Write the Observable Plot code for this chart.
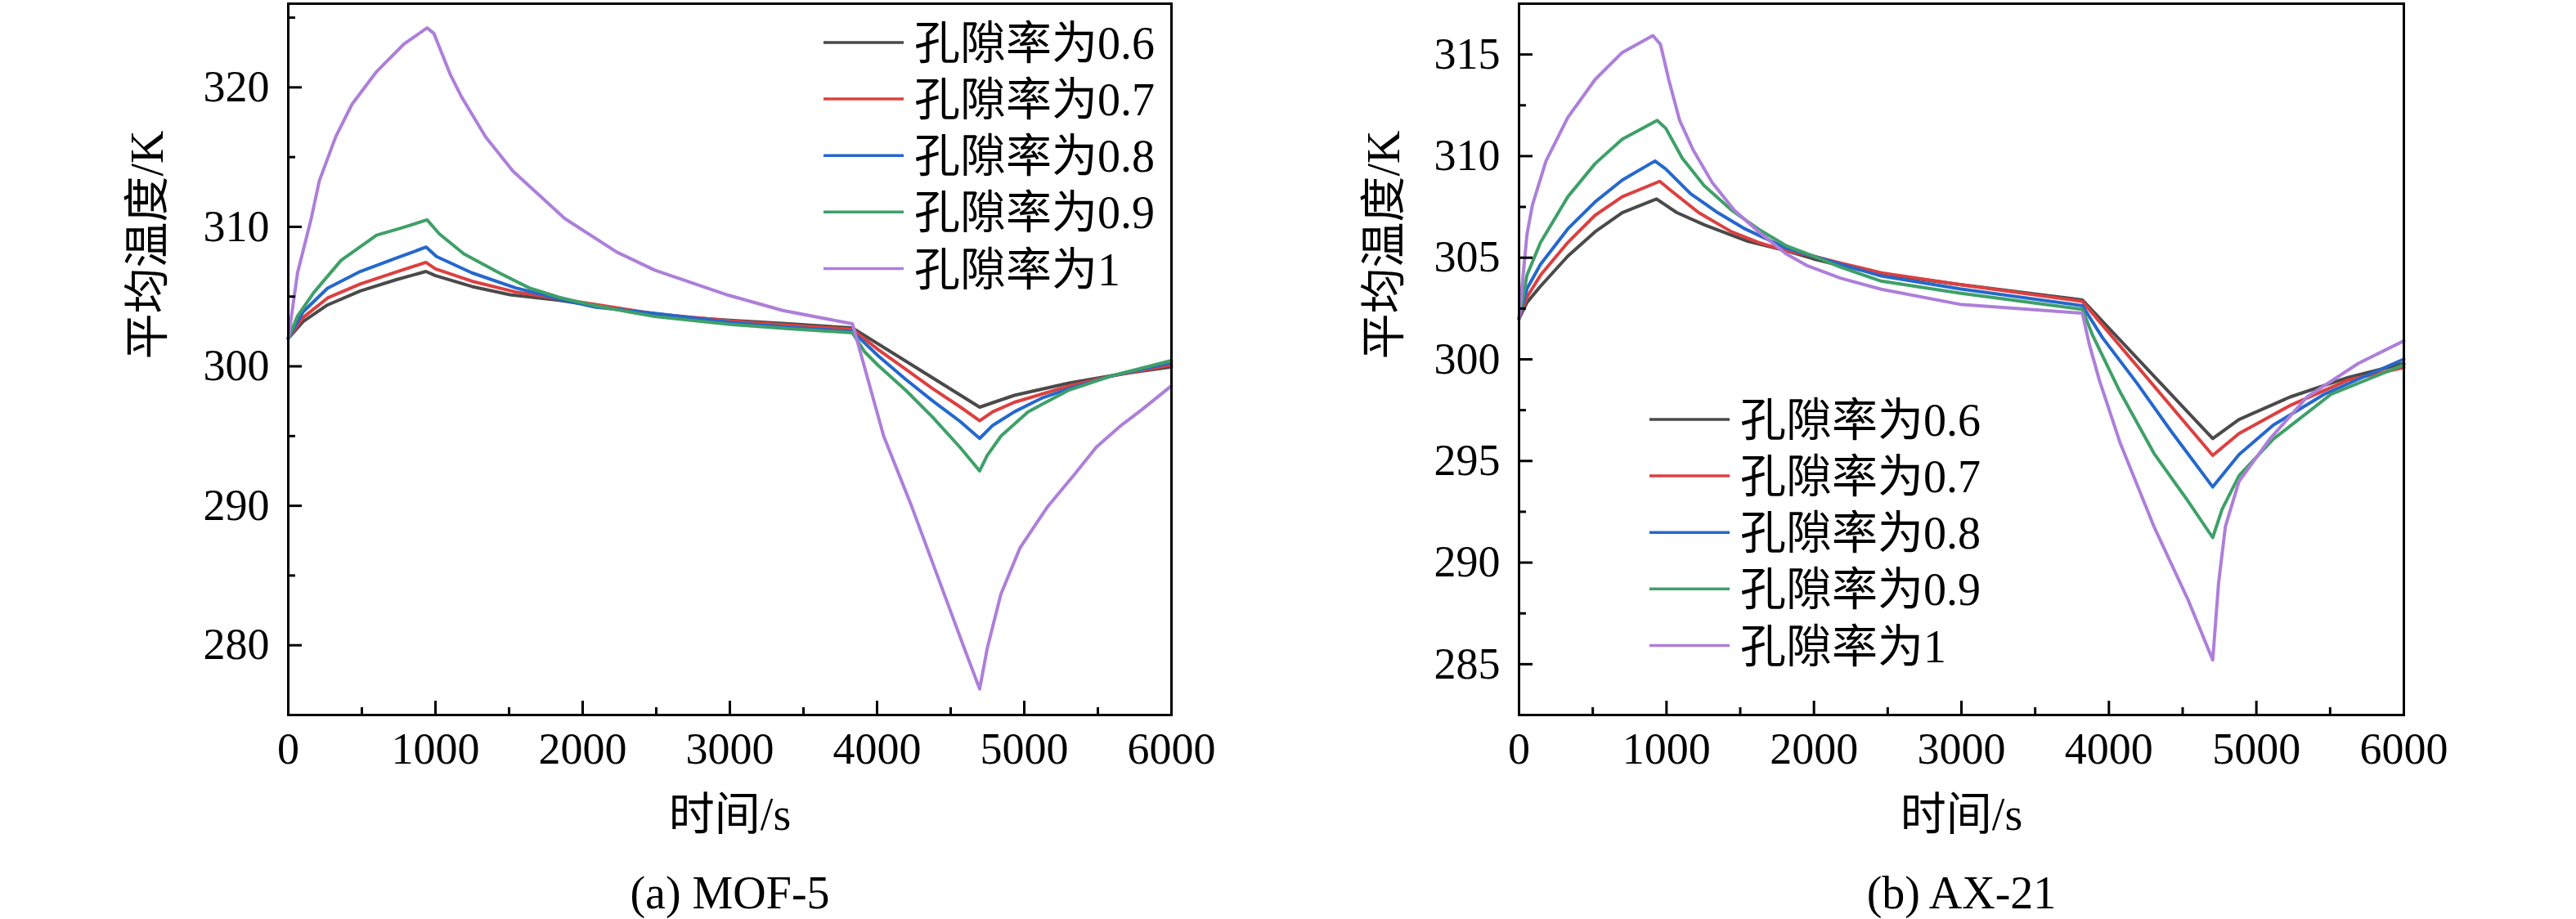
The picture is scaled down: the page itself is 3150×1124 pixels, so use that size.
<!DOCTYPE html>
<html>
<head>
<meta charset="utf-8">
<script src="https://cdn.jsdelivr.net/npm/d3@7"></script>
<script src="https://cdn.jsdelivr.net/npm/@observablehq/plot@0.6"></script>
<style>
  html, body { margin: 0; padding: 0; background: white; }
  #wrap { display: flex; width: 3150px; height: 1124px; }
  #wrap svg { display: block; overflow: visible; }
</style>
</head>
<body>
<div id="wrap"></div>
<script>
// ---------- data ----------
const seriesNames = ["孔隙率为0.6", "孔隙率为0.7", "孔隙率为0.8", "孔隙率为0.9", "孔隙率为1"];
const seriesColors = ["#4a4a4a", "#dc4040", "#2568cc", "#3fa068", "#ad7fd9"];

const xMajor = [0, 1000, 2000, 3000, 4000, 5000, 6000];
const xMinor = [500, 1500, 2500, 3500, 4500, 5500];

const yMajorA = [280, 290, 300, 310, 320];
const yMinorA = [285, 295, 305, 315, 325];
const yMajorB = [285, 290, 295, 300, 305, 310, 315];
const yMinorB = [287.5, 292.5, 297.5, 302.5, 307.5, 312.5];

// (a) MOF-5 : [time s, mean temperature K]
const mof5_06 = [[0,302.0],[100,303.2],[267,304.4],[489,305.4],[730,306.2],[935,306.8],[1000,306.5],[1248,305.72],[1507,305.13],[1841,304.74],[2489,303.67],[3000,303.3],[3400,303.05],[3833,302.75],[4267,299.9],[4697,297.07],[4933,297.92],[5304,298.8],[5674,299.47],[6000,299.96]];
const mof5_07 = [[0,302.0],[100,303.5],[267,304.9],[489,305.9],[730,306.75],[935,307.45],[1000,306.99],[1248,306.1],[1545,305.33],[1841,304.84],[2489,303.77],[3000,303.25],[3400,302.95],[3833,302.65],[4008,301.2],[4193,299.8],[4378,298.4],[4563,297.1],[4697,296.1],[4786,296.74],[4933,297.42],[5304,298.59],[5582,299.28],[6000,300.1]];
const mof5_08 = [[0,302.0],[100,303.9],[267,305.6],[489,306.8],[730,307.75],[937,308.55],[1007,307.87],[1248,306.7],[1545,305.62],[1841,304.84],[2082,304.25],[2489,303.8],[3000,303.15],[3400,302.8],[3833,302.5],[4008,300.75],[4193,299.08],[4378,297.52],[4563,296.06],[4697,294.83],[4786,295.77],[4933,296.74],[5119,297.72],[5304,298.4],[5582,299.28],[6000,300.26]];
const mof5_09 = [[0,302.0],[63,303.6],[174,305.3],[359,307.6],[600,309.4],[763,309.9],[943,310.5],[1026,309.5],[1193,308.06],[1433,306.7],[1637,305.62],[1841,304.94],[2082,304.35],[2489,303.57],[3000,303.0],[3400,302.7],[3833,302.4],[3915,301.04],[4008,300.06],[4193,298.3],[4378,296.35],[4563,294.2],[4697,292.5],[4748,293.6],[4841,294.99],[5026,296.74],[5304,298.3],[5582,299.28],[6000,300.41]];
const mof5_10 = [[0,302.0],[63,306.7],[156,310.6],[211,313.3],[322,316.45],[433,318.79],[600,321.13],[785,323.1],[943,324.26],[989,323.87],[1100,320.94],[1174,319.38],[1341,316.45],[1526,314.0],[1878,310.6],[2230,308.2],[2489,306.9],[2989,305.1],[3360,304.0],[3833,303.05],[4045,294.99],[4230,290.1],[4415,284.84],[4600,279.57],[4697,276.87],[4748,279.76],[4841,283.66],[4971,286.98],[5156,289.9],[5341,292.25],[5489,294.2],[5650,295.7],[5800,296.9],[6000,298.6]];

// (b) AX-21 : [time s, mean temperature K]
const ax21_06 = [[0,302.0],[54,302.8],[146,303.6],[331,305.08],[516,306.28],[700,307.22],[932,307.89],[1070,307.22],[1255,306.62],[1551,305.81],[1809,305.35],[1994,304.95],[2179,304.61],[2456,304.2],[2988,303.68],[3820,302.92],[4704,296.1],[4882,297.04],[5229,298.15],[5622,299.11],[6000,299.8]];
const ax21_07 = [[0,302.0],[54,303.07],[146,304.14],[331,305.75],[516,307.09],[700,308.0],[954,308.76],[1033,308.29],[1218,307.22],[1440,306.28],[1625,305.75],[1809,305.35],[1994,305.08],[2179,304.74],[2456,304.26],[2988,303.68],[3820,302.85],[4704,295.27],[4882,296.35],[5229,297.73],[5622,298.98],[6000,299.6]];
const ax21_08 = [[0,302.0],[54,303.48],[146,304.68],[331,306.42],[516,307.75],[700,308.82],[922,309.76],[996,309.36],[1163,308.15],[1347,307.22],[1532,306.42],[1809,305.48],[1994,305.08],[2179,304.68],[2456,304.1],[2988,303.47],[3820,302.64],[3958,301.05],[4189,298.84],[4420,296.48],[4704,293.72],[4882,295.31],[5114,296.76],[5460,298.28],[6000,300.01]];
const ax21_09 = [[0,302.0],[54,304.14],[146,305.75],[331,308.0],[516,309.63],[700,310.83],[937,311.76],[996,311.36],[1107,309.9],[1255,308.55],[1440,307.35],[1625,306.4],[1809,305.6],[1994,305.08],[2179,304.54],[2456,303.85],[2988,303.26],[3820,302.46],[3889,301.19],[4074,298.42],[4305,295.38],[4536,293.03],[4704,291.23],[4767,292.61],[4882,294.27],[5114,296.07],[5506,298.28],[6000,299.73]];
const ax21_10 = [[0,302.0],[54,306.15],[91,307.6],[183,309.76],[331,311.9],[516,313.77],[700,315.1],[908,315.93],[959,315.5],[1015,313.77],[1089,311.76],[1181,310.3],[1310,308.7],[1458,307.35],[1625,306.28],[1809,305.2],[1957,304.6],[2179,304.0],[2456,303.45],[2988,302.71],[3820,302.27],[3866,300.77],[3935,298.98],[4074,295.93],[4305,291.78],[4536,288.18],[4704,285.21],[4744,289.02],[4790,291.78],[4882,293.99],[5090,296.07],[5344,298.15],[5691,299.8],[6000,300.91]];

const xLabel = "时间/s";
const yLabel = "平均温度/K";
const captions = ["(a) MOF-5", "(b) AX-21"];

// ---------- drawing ----------
const FONT = "'Liberation Serif', 'Times New Roman', 'Noto Sans CJK SC', serif";
const W = 1575, H = 1124, MT = 4, MB = 250;

function panel(cfg) {
  const FH = H - MT - MB;
  const FW = W - cfg.marginLeft - cfg.marginRight;
  const lines = cfg.series.map((pts, i) =>
    Plot.line(pts, {x: d => d[0], y: d => d[1], stroke: seriesColors[i], strokeWidth: 4, strokeLinejoin: "round"}));
  const svg = Plot.plot({
    width: W, height: H,
    marginTop: MT, marginBottom: MB, marginLeft: cfg.marginLeft, marginRight: cfg.marginRight,
    style: {fontFamily: FONT, fontSize: "54px", color: "black", background: "white", overflow: "visible"},
    x: {domain: [0, 6000], ticks: xMajor, tickSize: 0, tickPadding: 21, tickFormat: d => String(d), label: null},
    y: {domain: cfg.yDomain, ticks: cfg.yMajor, tickSize: 0, tickPadding: 23, tickFormat: d => String(d), label: null},
    marks: [
      ...lines,
      Plot.frame({stroke: "black", strokeWidth: 3}),
      Plot.tickX(xMajor, {x: d => d, insetTop: FH - 17, stroke: "black", strokeWidth: 3}),
      Plot.tickX(xMinor, {x: d => d, insetTop: FH - 9, stroke: "black", strokeWidth: 3}),
      Plot.tickY(cfg.yMajor, {y: d => d, insetRight: FW - 17, stroke: "black", strokeWidth: 3}),
      Plot.tickY(cfg.yMinor, {y: d => d, insetRight: FW - 9, stroke: "black", strokeWidth: 3}),
      Plot.text([xLabel], {frameAnchor: "bottom", dy: 140, text: d => d, fontSize: 56, fill: "black"}),
      Plot.text([cfg.caption], {frameAnchor: "bottom", dy: 236, text: d => d, fontSize: 56, fill: "black"}),
      Plot.text([yLabel], {frameAnchor: "left", dx: cfg.yLabelDx, rotate: -90, text: d => d, fontSize: 56, fill: "black"})
    ]
  });
  // legend
  const g = d3.select(svg).append("g");
  seriesNames.forEach((name, i) => {
    const y = cfg.legendY + i * 69.1;
    g.append("line").attr("x1", cfg.legendX).attr("x2", cfg.legendX + 98)
      .attr("y1", y).attr("y2", y).attr("stroke", seriesColors[i]).attr("stroke-width", 3.5);
    g.append("text").attr("x", cfg.legendX + 111).attr("y", y).attr("dy", "0.36em")
      .attr("text-anchor", "start").attr("font-size", 56).attr("fill", "black").text(name);
  });
  d3.select(svg).selectAll("text").style("font-family", FONT);
  return svg;
}

const wrap = document.getElementById("wrap");
wrap.appendChild(panel({
  series: [mof5_06, mof5_07, mof5_08, mof5_09, mof5_10],
  yDomain: [275, 326], yMajor: yMajorA, yMinor: yMinorA,
  marginLeft: 352, marginRight: 143, yLabelDx: -171,
  caption: captions[0], legendX: 1007, legendY: 52
}));
wrap.appendChild(panel({
  series: [ax21_06, ax21_07, ax21_08, ax21_09, ax21_10],
  yDomain: [282.5, 317.5], yMajor: yMajorB, yMinor: yMinorB,
  marginLeft: 282, marginRight: 211, yLabelDx: -164,
  caption: captions[1], legendX: 442, legendY: 513
}));
</script>
</body>
</html>
